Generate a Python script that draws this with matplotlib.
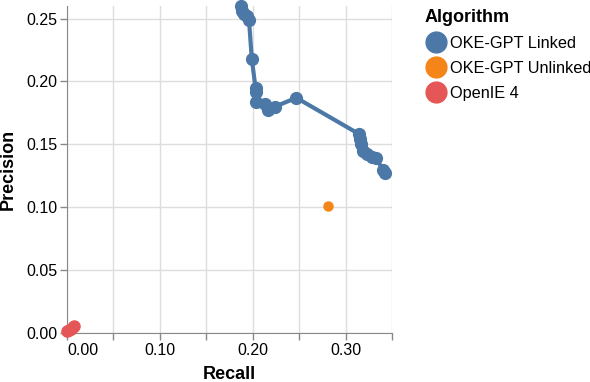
import numpy as np
import matplotlib
matplotlib.use("Agg")
import matplotlib.pyplot as plt
from matplotlib.lines import Line2D

plt.rcParams['font.family'] = ['Liberation Sans', 'DejaVu Sans']

# precision / recall points
linked_recall = [0.187, 0.189, 0.191, 0.194, 0.196, 0.199, 0.203, 0.203, 0.204,
                 0.213, 0.216, 0.224, 0.247, 0.315, 0.316, 0.317, 0.319, 0.323,
                 0.328, 0.333, 0.340, 0.342]
linked_precision = [0.260, 0.256, 0.254, 0.252, 0.249, 0.218, 0.195, 0.192, 0.184,
                    0.182, 0.177, 0.180, 0.187, 0.158, 0.154, 0.150, 0.145, 0.142,
                    0.140, 0.139, 0.130, 0.127]
unlinked_recall = [0.281]
unlinked_precision = [0.101]
openie_recall = [0.000, 0.002, 0.004, 0.006, 0.008]
openie_precision = [0.0015, 0.0025, 0.0035, 0.0045, 0.0055]

algorithms = ['OKE-GPT Linked', 'OKE-GPT Unlinked', 'OpenIE 4']
colors = ['#4c78a8', '#f58518', '#e45756']

x_ticks = np.arange(0, 0.351, 0.05)
y_ticks = np.arange(0, 0.251, 0.05)

fig = plt.figure(figsize=(5.9, 3.82), dpi=100)
ax = fig.add_axes([67 / 590, 1 - 333 / 382, 325 / 590, 327 / 382])

# gridlines and axes, vega-lite style
ax.set_axisbelow(True)
ax.grid(color='#dddddd', linewidth=1)
for side in ['top', 'right']:
    ax.spines[side].set_visible(False)
for side in ['left', 'bottom']:
    ax.spines[side].set_color('#888888')
ax.tick_params(color='#888888', length=5, width=1, labelsize=11.5, pad=2)

ax.plot(linked_recall, linked_precision, '-', color=colors[0], lw=3,
        marker='o', markersize=8.5, clip_on=False, zorder=3)
ax.plot(unlinked_recall, unlinked_precision, 'o', color=colors[1],
        markersize=6.5, clip_on=False, zorder=3)
ax.plot(openie_recall, openie_precision, 'o', color=colors[2],
        markersize=8, clip_on=False, zorder=3)

ax.set_xlim(0, 0.35)
ax.set_ylim(0, 0.26)
ax.set_xticks(x_ticks)
ax.set_xticklabels(['%.2f' % t if i % 2 == 0 else '' for i, t in enumerate(x_ticks)])
ax.get_xticklabels()[0].set_horizontalalignment('left')
ax.set_yticks(y_ticks)
ax.set_yticklabels(['%.2f' % t for t in y_ticks])

ax.set_xlabel('Recall', fontsize=13, fontweight='bold', labelpad=6)
ax.set_ylabel('Precision', fontsize=13, fontweight='bold', labelpad=7)

handles = [Line2D([], [], linestyle='none', marker='o', markersize=15,
                  markerfacecolor=c, markeredgecolor=c) for c in colors]
leg = ax.legend(handles, algorithms, title='Algorithm', loc='upper left',
                bbox_to_anchor=(418 / 590, 1 - 2 / 382), bbox_transform=fig.transFigure,
                frameon=False, fontsize=11.7, title_fontproperties={'weight': 'bold', 'size': 13},
                alignment='left', handletextpad=0.15, labelspacing=0.62,
                borderaxespad=0, handlelength=1.4)

fig.savefig('out.png', dpi=100)
